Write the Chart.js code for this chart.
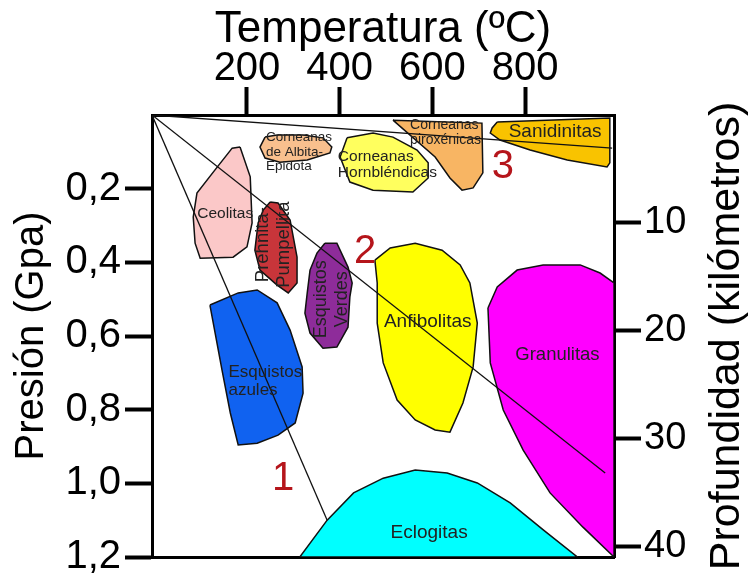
<!DOCTYPE html>
<html>
<head>
<meta charset="utf-8">
<title>Facies metamórficas</title>
<script src="https://cdn.jsdelivr.net/npm/chart.js@4.4.1/dist/chart.umd.min.js"></script>
<style>
    body { margin: 0; background: #fff; }
    #wrap { width: 751px; height: 573px; }
</style>
</head>
<body>
<div id="wrap"><canvas id="facies" width="751" height="573"></canvas></div>
<script>
// outlines as [temperatura ºC, presión GPa]
const ceolitas = [[185, 0.087], [207, 0.168], [211, 0.293], [200, 0.358], [170, 0.386], [99, 0.389], [88, 0.348], [84, 0.277], [92, 0.212], [131, 0.149], [168, 0.090]];
const albitaEpidota = [[239, 0.060], [228, 0.087], [239, 0.117], [271, 0.128], [330, 0.122], [379, 0.103], [383, 0.087], [364, 0.062], [321, 0.054], [265, 0.054]];
const hornblendicas = [[416, 0.062], [401, 0.114], [422, 0.182], [472, 0.204], [558, 0.209], [591, 0.171], [591, 0.130], [567, 0.095], [515, 0.060], [472, 0.049]];
const piroxenicas = [[515, 0.014], [707, 0.022], [709, 0.157], [688, 0.198], [664, 0.204], [638, 0.171], [606, 0.114]];
const sanidinitas = [[740, 0.019], [983, 0.008], [983, 0.130], [977, 0.141], [891, 0.122], [811, 0.095], [746, 0.068], [725, 0.049], [729, 0.035]];
const prehnita = [[250, 0.236], [267, 0.239], [293, 0.285], [308, 0.386], [308, 0.456], [289, 0.483], [265, 0.462], [228, 0.421], [217, 0.367], [224, 0.293], [235, 0.258]];
const verdes = [[368, 0.348], [394, 0.348], [418, 0.413], [427, 0.456], [422, 0.494], [418, 0.576], [394, 0.630], [364, 0.633], [336, 0.592], [325, 0.538], [330, 0.483], [336, 0.421], [351, 0.375]];
const azules = [[120, 0.516], [181, 0.483], [222, 0.475], [265, 0.510], [293, 0.584], [319, 0.684], [321, 0.755], [304, 0.836], [267, 0.869], [222, 0.891], [181, 0.896], [164, 0.809], [146, 0.692]];
const anfibolitas = [[476, 0.394], [509, 0.361], [563, 0.348], [621, 0.367], [660, 0.407], [681, 0.456], [697, 0.565], [688, 0.684], [666, 0.782], [638, 0.861], [606, 0.855], [563, 0.828], [524, 0.774], [494, 0.673], [481, 0.565], [481, 0.456]];
const granulitas = [[720, 0.524], [740, 0.467], [783, 0.421], [839, 0.407], [919, 0.407], [962, 0.429], [992, 0.456], [992, 1.200], [925, 1.119], [854, 1.026], [796, 0.910], [753, 0.801], [725, 0.673]];
const eclogitas = [[314, 1.200], [373, 1.100], [430, 1.026], [494, 0.986], [563, 0.964], [632, 0.972], [697, 0.999], [768, 1.053], [840, 1.127], [913, 1.200]];

// gradientes geotérmicos 1, 2, 3
const geotherm1 = [[-5, 0], [373, 1.10]];
const geotherm2 = [[-5, 0], [973, 0.972]];
const geotherm3 = [[-5, 0], [988, 0.090]];

const tempTicks = [200, 400, 600, 800];
const presTicks = [0.2, 0.4, 0.6, 0.8, 1.0, 1.2];
const depthTicks = [10, 20, 30, 40];

const FONT = '"Liberation Sans", Arial, sans-serif';

const faciesLabels = [
    { lines: ['Corneanas', 'de Albita-', 'Epidota'], t: 241, p: 0.100, size: 13.5, gap: 14.5, align: 'left' },
    { lines: ['Corneanas', 'Hornbléndicas'], t: 396, p: 0.136, size: 15.5, gap: 16, align: 'left' },
    { lines: ['Corneanas', 'piroxénicas'], t: 552, p: 0.047, size: 14, gap: 15, align: 'left' },
    { lines: ['Sanidinitas'], t: 865, p: 0.046, size: 19 },
    { lines: ['Ceolitas'], t: 153, p: 0.269, size: 15.5 },
    { lines: ['Prehnita-', 'Pumpellita'], t: 258, p: 0.352, size: 18.5, gap: 21, rotate: true },
    { lines: ['Esquistos', 'Verdes'], t: 383, p: 0.500, size: 18, gap: 21, rotate: true },
    { lines: ['Esquistos', 'azules'], t: 160, p: 0.722, size: 17, gap: 18, align: 'left' },
    { lines: ['Anfibolitas'], t: 590, p: 0.562, size: 19 },
    { lines: ['Granulitas'], t: 870, p: 0.652, size: 18.5 },
    { lines: ['Eclogitas'], t: 593, p: 1.135, size: 19 },
    { lines: ['1'], t: 278, p: 0.988, size: 40, color: '#b5151b' },
    { lines: ['2'], t: 455, p: 0.372, size: 40, color: '#b5151b' },
    { lines: ['3'], t: 752, p: 0.141, size: 40, color: '#b5151b' }
];

function toXY(pts) {
    return pts.map(([x, y]) => ({ x, y }));
}

function facies(label, pts, color) {
    return {
        label,
        data: toXY(pts.concat([pts[0]])),
        showLine: true,
        fill: 'shape',
        backgroundColor: color,
        borderColor: '#111',
        borderWidth: 1.5,
        pointRadius: 0,
        tension: 0,
        order: 2,
        xAxisID: 'x',
        yAxisID: 'y'
    };
}

function geotherm(label, pts) {
    return {
        label,
        data: toXY(pts),
        showLine: true,
        fill: false,
        borderColor: '#111',
        borderWidth: 1.3,
        pointRadius: 0,
        order: 1,
        xAxisID: 'x',
        yAxisID: 'y'
    };
}

// text inside the diagram + right axis title (reads bottom to top)
const textPlugin = {
    id: 'faciesText',
    afterDatasetsDraw(chart) {
        const ctx = chart.ctx;
        const xs = chart.scales.x, ys = chart.scales.y;
        faciesLabels.forEach(l => {
            const px = xs.getPixelForValue(l.t);
            const py = ys.getPixelForValue(l.p);
            const gap = l.gap || 0;
            ctx.save();
            ctx.translate(px, py);
            if (l.rotate) ctx.rotate(-Math.PI / 2);
            ctx.font = l.size + 'px ' + FONT;
            ctx.fillStyle = l.color || '#222';
            ctx.textAlign = l.align || 'center';
            ctx.textBaseline = 'middle';
            const y0 = -gap * (l.lines.length - 1) / 2;
            l.lines.forEach((txt, i) => ctx.fillText(txt, 0, y0 + i * gap));
            ctx.restore();
        });
    },
    afterDraw(chart) {
        const ctx = chart.ctx;
        const area = chart.chartArea;
        ctx.save();
        ctx.translate(727, (area.top + area.bottom) / 2);
        ctx.rotate(-Math.PI / 2);
        ctx.font = '43px ' + FONT;
        ctx.fillStyle = '#000';
        ctx.textAlign = 'center';
        ctx.textBaseline = 'middle';
        ctx.fillText('Profundidad (kilómetros)', 0, 0);
        ctx.restore();
    }
};

// fixed axis box sizes; no extra room for overflowing end labels
function fixWidth(w) {
    return s => { s.width = w; s.paddingTop = 0; s.paddingBottom = 0; };
}

const tickGrid = { display: true, drawOnChartArea: false, drawTicks: true, tickLength: 27, tickWidth: 4, tickColor: '#000' };
const frame = { display: true, width: 3, color: '#000' };

new Chart(document.getElementById('facies'), {
    type: 'scatter',
    data: {
        datasets: [
            geotherm('1', geotherm1),
            geotherm('2', geotherm2),
            geotherm('3', geotherm3),
            facies('Ceolitas', ceolitas, '#fbc8c8'),
            facies('Corneanas de Albita-Epidota', albitaEpidota, '#f9c08e'),
            facies('Corneanas Hornbléndicas', hornblendicas, '#ffff5e'),
            facies('Corneanas piroxénicas', piroxenicas, '#f8b563'),
            facies('Sanidinitas', sanidinitas, '#f9c300'),
            facies('Prehnita-Pumpellita', prehnita, '#c8353a'),
            facies('Esquistos Verdes', verdes, '#8e2c9a'),
            facies('Esquistos azules', azules, '#1062f0'),
            facies('Anfibolitas', anfibolitas, '#ffff00'),
            facies('Granulitas', granulitas, '#ff00ff'),
            facies('Eclogitas', eclogitas, '#00ffff')
        ]
    },
    options: {
        responsive: false,
        animation: false,
        layout: { padding: { bottom: 16 } },
        plugins: { legend: { display: false }, tooltip: { enabled: false } },
        scales: {
            x: {
                type: 'linear', position: 'top', min: -5, max: 992, z: 1,
                afterFit: s => { s.height = 115; },
                afterBuildTicks: s => { s.ticks = tempTicks.map(v => ({ value: v })); },
                ticks: { color: '#000', font: { size: 40, family: FONT }, padding: -6, maxRotation: 0, autoSkip: false },
                grid: Object.assign({}, tickGrid, { tickLength: 28 }),
                border: frame,
                title: { display: true, text: 'Temperatura (ºC)', color: '#000', font: { size: 44, family: FONT }, padding: { top: 3, bottom: 0 } }
            },
            xb: {
                type: 'linear', position: 'bottom', min: -5, max: 992, z: 1,
                afterFit: s => { s.height = 0; },
                ticks: { display: false },
                grid: { display: false },
                border: frame
            },
            y: {
                type: 'linear', position: 'left', reverse: true, min: 0, max: 1.2, z: 1,
                afterFit: fixWidth(152),
                afterBuildTicks: s => { s.ticks = presTicks.map(v => ({ value: v })); },
                ticks: { color: '#000', font: { size: 40, family: FONT }, padding: 4, callback: v => v.toFixed(1).replace('.', ',') },
                grid: tickGrid,
                border: frame,
                title: { display: true, text: 'Presión (Gpa)', color: '#000', font: { size: 40, family: FONT }, padding: { top: 8, bottom: 0 } }
            },
            y2: {
                type: 'linear', position: 'right', reverse: true, min: 0, max: 41, z: 1,
                afterFit: fixWidth(137),
                afterBuildTicks: s => { s.ticks = depthTicks.map(v => ({ value: v })); },
                ticks: { color: '#000', font: { size: 38, family: FONT }, padding: 3 },
                grid: tickGrid,
                border: frame
            }
        }
    },
    plugins: [textPlugin]
});
</script>
</body>
</html>
